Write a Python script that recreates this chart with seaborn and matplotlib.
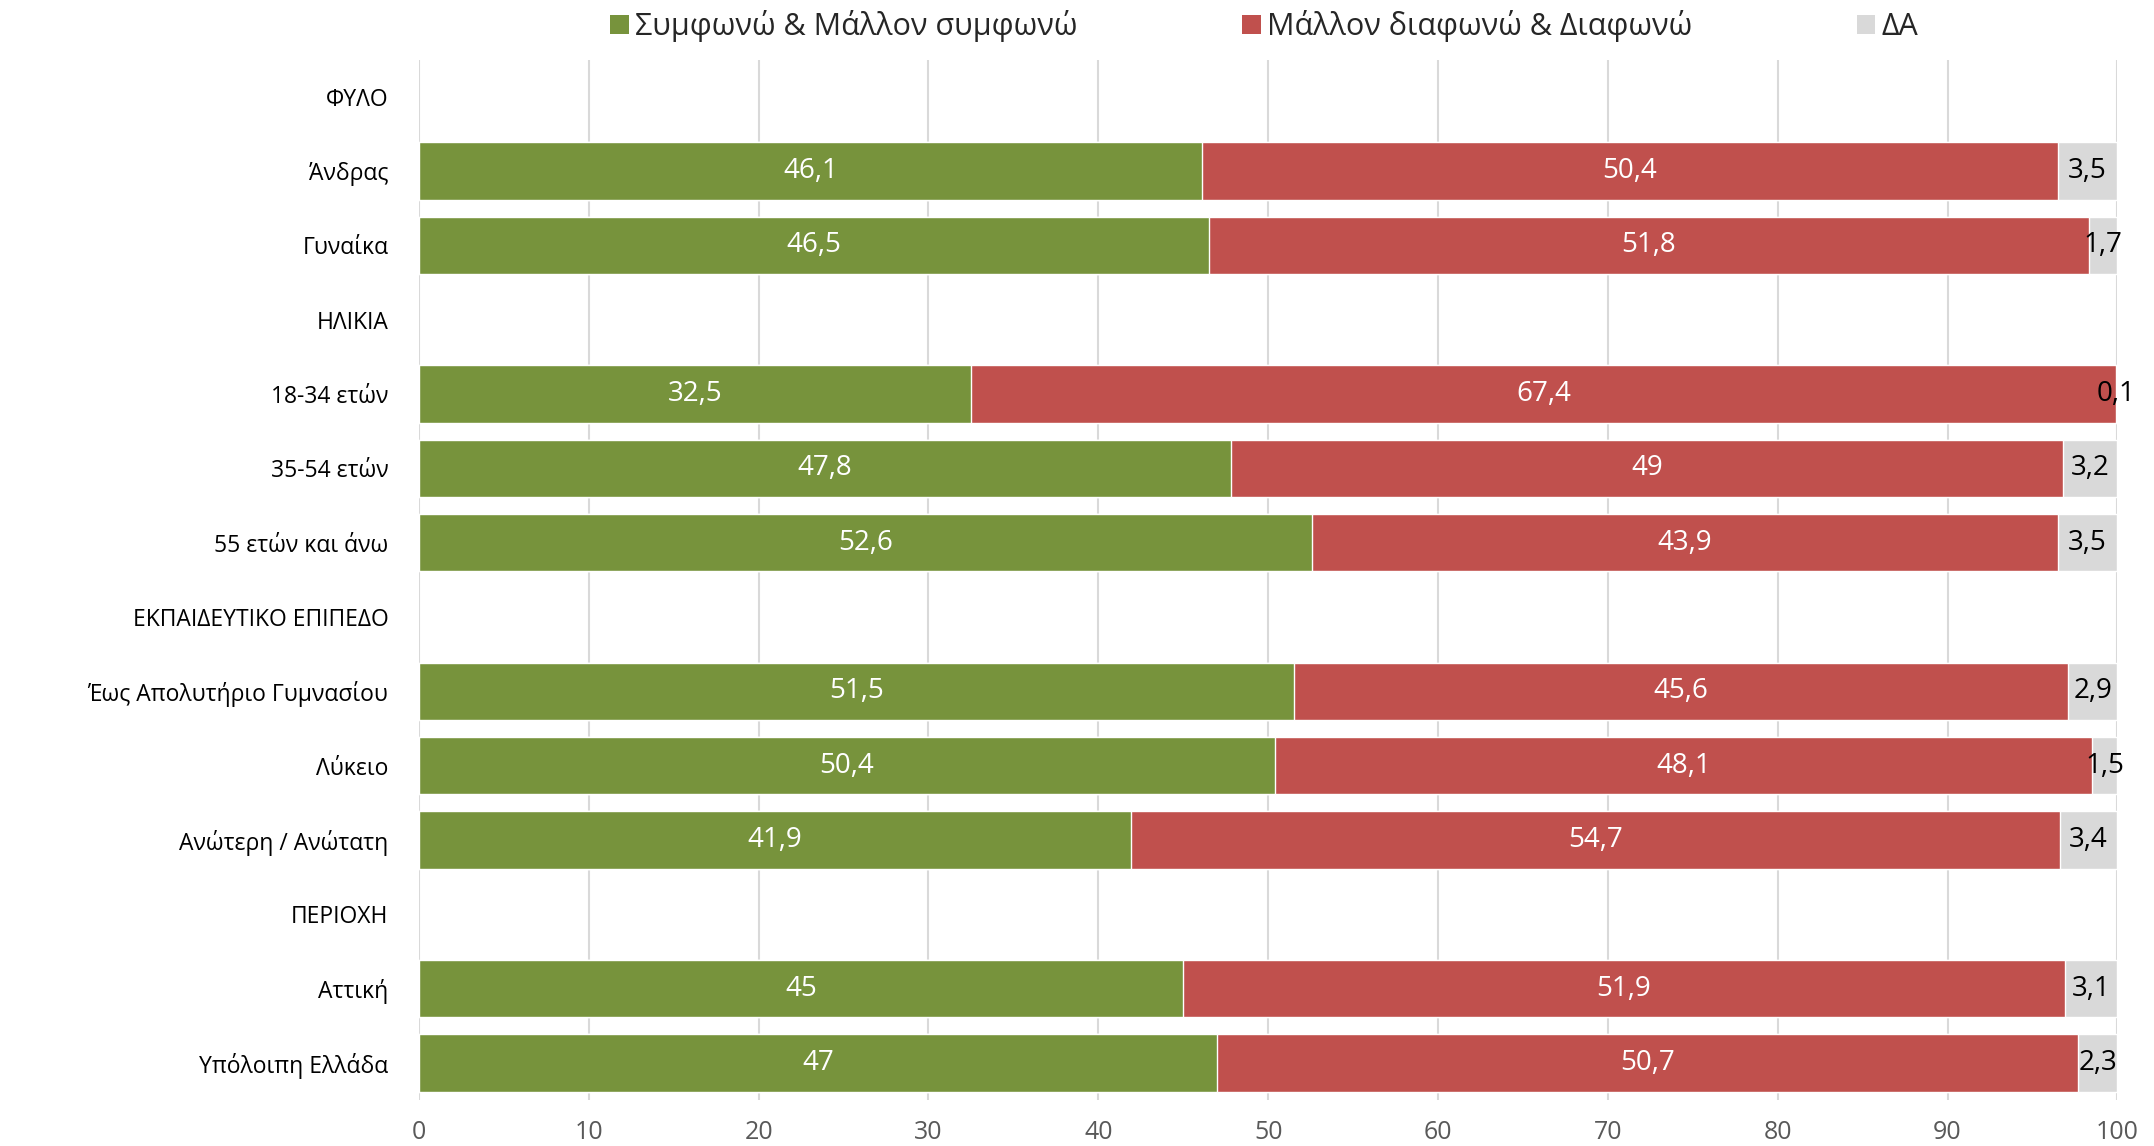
import numpy as np
import pandas as pd
import matplotlib
matplotlib.use("Agg")
import matplotlib.pyplot as plt
import seaborn as sns
from matplotlib.patches import Patch

# ── Data ────────────────────────────────────────────────────────────────────
categories = [
    "ΦΥΛΟ", "Άνδρας", "Γυναίκα",
    "ΗΛΙΚΙΑ", "18-34 ετών", "35-54 ετών", "55 ετών και άνω",
    "ΕΚΠΑΙΔΕΥΤΙΚΟ ΕΠΙΠΕΔΟ", "Έως Απολυτήριο Γυμνασίου", "Λύκειο", "Ανώτερη / Ανώτατη",
    "ΠΕΡΙΟΧΗ", "Αττική", "Υπόλοιπη Ελλάδα",
]
agree    = [np.nan, 46.1, 46.5, np.nan, 32.5, 47.8, 52.6, np.nan, 51.5, 50.4, 41.9, np.nan, 45, 47]
disagree = [np.nan, 50.4, 51.8, np.nan, 67.4, 49, 43.9, np.nan, 45.6, 48.1, 54.7, np.nan, 51.9, 50.7]
dk       = [np.nan, 3.5, 1.7, np.nan, 0.1, 3.2, 3.5, np.nan, 2.9, 1.5, 3.4, np.nan, 3.1, 2.3]
series_names = ["Συμφωνώ & Μάλλον συμφωνώ", "Μάλλον διαφωνώ & Διαφωνώ", "ΔΑ"]
x_ticks = list(range(0, 101, 10))

GREEN, RED, GREY = "#77933C", "#C0504D", "#D9D9D9"

df = pd.DataFrame({"cat": categories, "agree": agree, "disagree": disagree, "dk": dk})
df["c1"] = df["agree"]
df["c2"] = df["agree"] + df["disagree"]
df["c3"] = df["c2"] + df["dk"]

# ── Style ───────────────────────────────────────────────────────────────────
sns.set_style("white")
plt.rcParams["font.family"] = ["Open Sans", "DejaVu Sans"]
FS = 19

fig, ax = plt.subplots(figsize=(21.54, 11.46), dpi=100)
fig.subplots_adjust(left=0.1945, right=0.983, top=0.948, bottom=0.040)

# stacked bars drawn back to front
for col, color in [("c3", GREY), ("c2", RED), ("c1", GREEN)]:
    sns.barplot(data=df, x=col, y="cat", order=categories, orient="h",
                color=color, width=0.77, saturation=1, errorbar=None, ax=ax, zorder=3)

# segment labels
def fmt(v):
    return f"{v:g}".replace(".", ",")

for i, row in df.iterrows():
    if np.isnan(row["agree"]):
        continue
    ax.text(row["agree"] / 2, i, fmt(row["agree"]), ha="center", va="center",
            color="white", fontsize=FS + 1, zorder=5)
    ax.text(row["c1"] + row["disagree"] / 2, i, fmt(row["disagree"]), ha="center",
            va="center", color="white", fontsize=FS + 1, zorder=5)
    ax.text(row["c2"] + row["dk"] / 2, i, fmt(row["dk"]), ha="center", va="center",
            color="black", fontsize=FS + 1, zorder=5, clip_on=False)

ax.set_xlim(0, 100)
ax.set_ylim(len(categories) - 0.5, -0.5)
ax.set_xticks(x_ticks)
ax.set_xlabel("")
ax.set_ylabel("")
ax.grid(axis="x", color="#D9D9D9", linewidth=1.5, zorder=0)
ax.grid(axis="y", visible=False)
ax.set_axisbelow(True)
for s in ["top", "right", "bottom", "left"]:
    ax.spines[s].set_visible(False)
ax.tick_params(axis="y", length=0, pad=22, labelsize=16.5, labelcolor="#000000")
ax.tick_params(axis="x", length=0, pad=14, labelsize=FS - 1, labelcolor="#595959")

handles = [Patch(facecolor=c, edgecolor="none") for c in (GREEN, RED, GREY)]
fig.legend(handles, series_names, loc="center", ncol=3, frameon=False,
           bbox_to_anchor=(0.587, 0.977), fontsize=22, handlelength=0.6,
           handleheight=0.6, handletextpad=0.2, columnspacing=5.4)

fig.savefig("out.png", dpi=100)
